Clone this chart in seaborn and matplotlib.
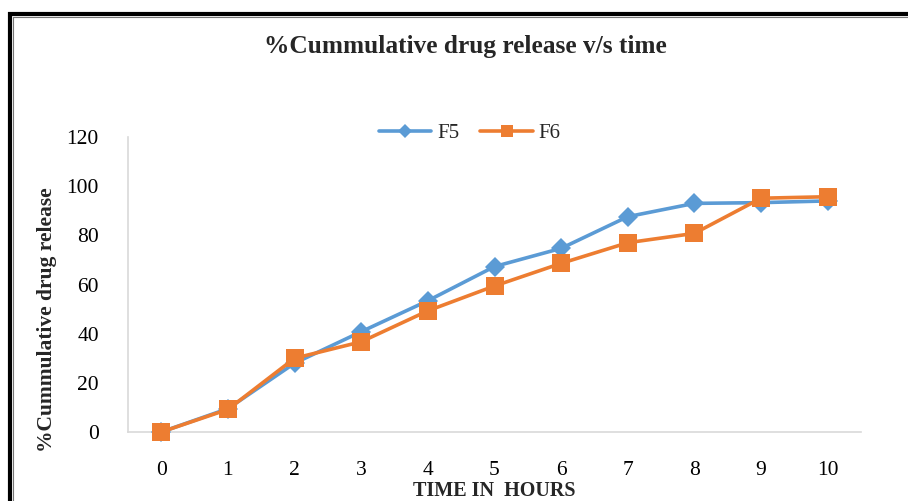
import matplotlib
matplotlib.use("Agg")
import matplotlib.pyplot as plt
import seaborn as sns
import pandas as pd
from matplotlib.lines import Line2D

# Data
time_hours = [0, 1, 2, 3, 4, 5, 6, 7, 8, 9, 10]
f5_release = [0, 9.5, 28, 40.8, 53.4, 67.3, 74.7, 87.6, 93.0, 93.3, 94.0]
f6_release = [0, 9.2, 30.0, 36.7, 49.3, 59.4, 68.6, 77.0, 80.8, 95.1, 95.7]
series_names = ["F5", "F6"]
y_ticks = [0, 20, 40, 60, 80, 100, 120]

title_text = "%Cummulative drug release v/s time"
xlabel_text = "TIME IN  HOURS"
ylabel_text = "%Cummulative drug release"

sns.set_theme(style="white")
plt.rcParams["font.family"] = ["Liberation Serif", "DejaVu Serif"]

W, H = 908, 501
fig = plt.figure(figsize=(W / 100, H / 100), dpi=100)
ax = fig.add_axes([128 / W, 1 - 432 / H, (861 - 128) / W, (432 - 137) / H])

df = pd.DataFrame({
    "time": time_hours * 2,
    "release": f5_release + f6_release,
    "series": [series_names[0]] * len(time_hours) + [series_names[1]] * len(time_hours),
})

colors = {"F5": "#5B9BD5", "F6": "#ED7D31"}
markers = {"F5": "D", "F6": "s"}
msizes = {"F5": 10.5, "F6": 12.5}
for name in series_names:
    sub = df[df["series"] == name]
    sns.lineplot(data=sub, x="time", y="release", ax=ax, color=colors[name],
                 marker=markers[name], markersize=msizes[name], markeredgewidth=0,
                 linewidth=2.6, label=name, legend=False, clip_on=False, zorder=3)

ax.set_xlim(-0.5, 10.5)
ax.set_ylim(0, 120)
ax.set_xticks(time_hours)
ax.set_xticklabels([str(t) for t in time_hours])
ax.set_yticks(y_ticks)
ax.set_yticklabels([str(v) for v in y_ticks])
ax.tick_params(axis="x", length=0, pad=21, labelsize=15.5, colors="black")
ax.tick_params(axis="y", length=0, pad=21, labelsize=15.5, colors="black")
ax.set_xlabel("")
ax.set_ylabel("")
for side in ["top", "right"]:
    ax.spines[side].set_visible(False)
for side in ["left", "bottom"]:
    ax.spines[side].set_color("#D9D9D9")
    ax.spines[side].set_linewidth(1.2)
    ax.spines[side].set_zorder(1)
ax.grid(False)

# Titles and labels
fig.text(465 / W, 1 - 47 / H, title_text, ha="center", va="center",
         fontsize=18.3, fontweight="bold")
fig.text(494 / W, 1 - 491 / H, xlabel_text, ha="center", va="center",
         fontsize=14.5, fontweight="bold")
fig.text(47 / W, 1 - 320 / H, ylabel_text, ha="center", va="center",
         rotation=90, fontsize=15.5, fontweight="bold")

# Legend
handles = [
    Line2D([], [], color=colors["F5"], marker="D", markersize=7, markeredgewidth=0, linewidth=2.6),
    Line2D([], [], color=colors["F6"], marker="s", markersize=8, markeredgewidth=0, linewidth=2.6),
]
fig.legend(handles, series_names, loc="center", bbox_to_anchor=(470 / W, 1 - 133 / H),
           ncol=2, frameon=False, fontsize=15, handlelength=2.5, handletextpad=0.3,
           columnspacing=1.0)

# Outer frame
fig.add_artist(Line2D([8 / W, 1], [1 - 14 / H, 1 - 14 / H], color="black", linewidth=3,
                      transform=fig.transFigure, solid_capstyle="butt"))
fig.add_artist(Line2D([10 / W, 10 / W], [0, 1 - 12 / H], color="black", linewidth=3,
                      transform=fig.transFigure, solid_capstyle="butt"))
fig.add_artist(Line2D([13 / W, 1], [1 - 16.5 / H, 1 - 16.5 / H], color="#777777", linewidth=0.8,
                      transform=fig.transFigure))
fig.add_artist(Line2D([13 / W, 13 / W], [0, 1 - 16.5 / H], color="#777777", linewidth=0.8,
                      transform=fig.transFigure))

fig.savefig("out.png", dpi=100)
